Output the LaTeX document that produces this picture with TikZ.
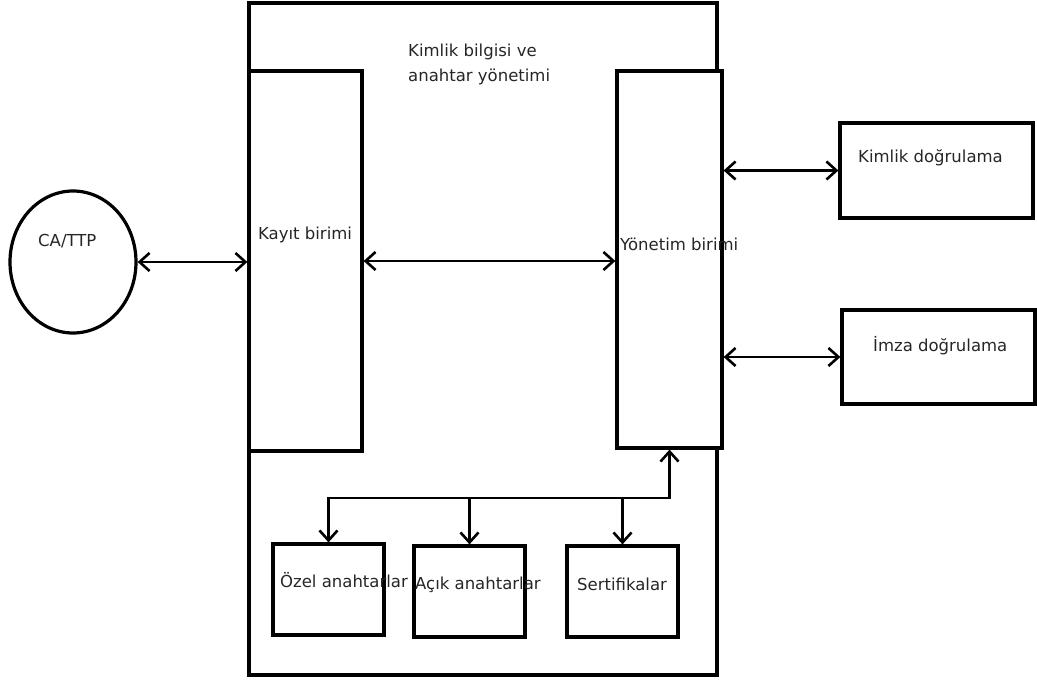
\documentclass[tikz,border=0pt]{standalone}
\usepackage{fontspec}
\setmainfont{DejaVu Sans}
\usepackage{tikz}
\usetikzlibrary{arrows,arrows.meta,shapes.geometric}

\begin{document}
\begin{tikzpicture}[x=1pt,y=-1pt]
\tikzstyle{box} = [draw,line width=3.2pt,inner sep=0pt,shape=rectangle]
\tikzstyle{link} = [line width=2.6pt,{Straight Barb[length=10pt,width=18pt,line width=2.6pt]}-{Straight Barb[length=10pt,width=18pt,line width=2.6pt]}]
\tikzstyle{down} = [line width=2.6pt,-{Straight Barb[length=10pt,width=18pt,line width=2.6pt]}]
\tikzstyle{txt} = [anchor=west,inner sep=0pt,font=\fontsize{16.5}{25}\selectfont,text=black!85]

\useasboundingbox (0,0) rectangle (1037,681);

\node[box,minimum width=468pt,minimum height=672pt] (outer) at (483,339) {};
\node[box,fill=white,minimum width=113pt,minimum height=380pt] (kayit) at (305.5,261) {};
\node[box,fill=white,minimum width=105pt,minimum height=377pt] (yonetim) at (669.5,259.5) {};
\node[draw,line width=3.2pt,shape=ellipse,inner sep=0pt,minimum width=126pt,minimum height=142pt] (ca) at (73,262) {};
\node[box,minimum width=193pt,minimum height=95pt] (kimlik) at (936.5,170.5) {};
\node[box,minimum width=193pt,minimum height=94pt] (imza) at (938.5,357) {};
\node[box,minimum width=111pt,minimum height=91pt] (ozel) at (328.5,589.5) {};
\node[box,minimum width=111pt,minimum height=91pt] (acik) at (469.5,591.5) {};
\node[box,minimum width=111pt,minimum height=91pt] (sert) at (622.5,591.5) {};

% labels
\node[txt,align=left] (baslik) at (408,64) {Kimlik bilgisi ve\\anahtar yönetimi};
\node[txt] (catext) at (38,241) {CA/TTP};
\node[txt] (kayittext) at (258,235) {Kayıt birimi};
\node[txt] (yonetimtext) at (620,244) {Yönetim birimi};
\node[txt] (kimliktext) at (858,158) {Kimlik doğrulama};
\node[txt] (imzatext) at (873,346) {İmza doğrulama};
\node[txt] (ozeltext) at (280,580) {Özel anahtarlar};
\node[txt] (aciktext) at (415,585) {Açık anahtarlar};
\node[txt] (serttext) at (577,584) {Sertifikalar};

% connectors
\coordinate (bus) at (0,498);
\draw[link] (ca.east) -- (kayit.west|-ca.east);
\draw[link] (kayit.east) -- (yonetim.west|-kayit.east);
\draw[link] (yonetim.east|-kimlik.west) -- (kimlik.west);
\draw[link] (yonetim.east|-imza.west) -- (imza.west);
\draw[link] (yonetim.south) |- (ozel.north|-bus) -- (ozel.north);
\draw[down] (acik.north|-bus) -- (acik.north);
\draw[down] (sert.north|-bus) -- (sert.north);
\end{tikzpicture}
\end{document}
